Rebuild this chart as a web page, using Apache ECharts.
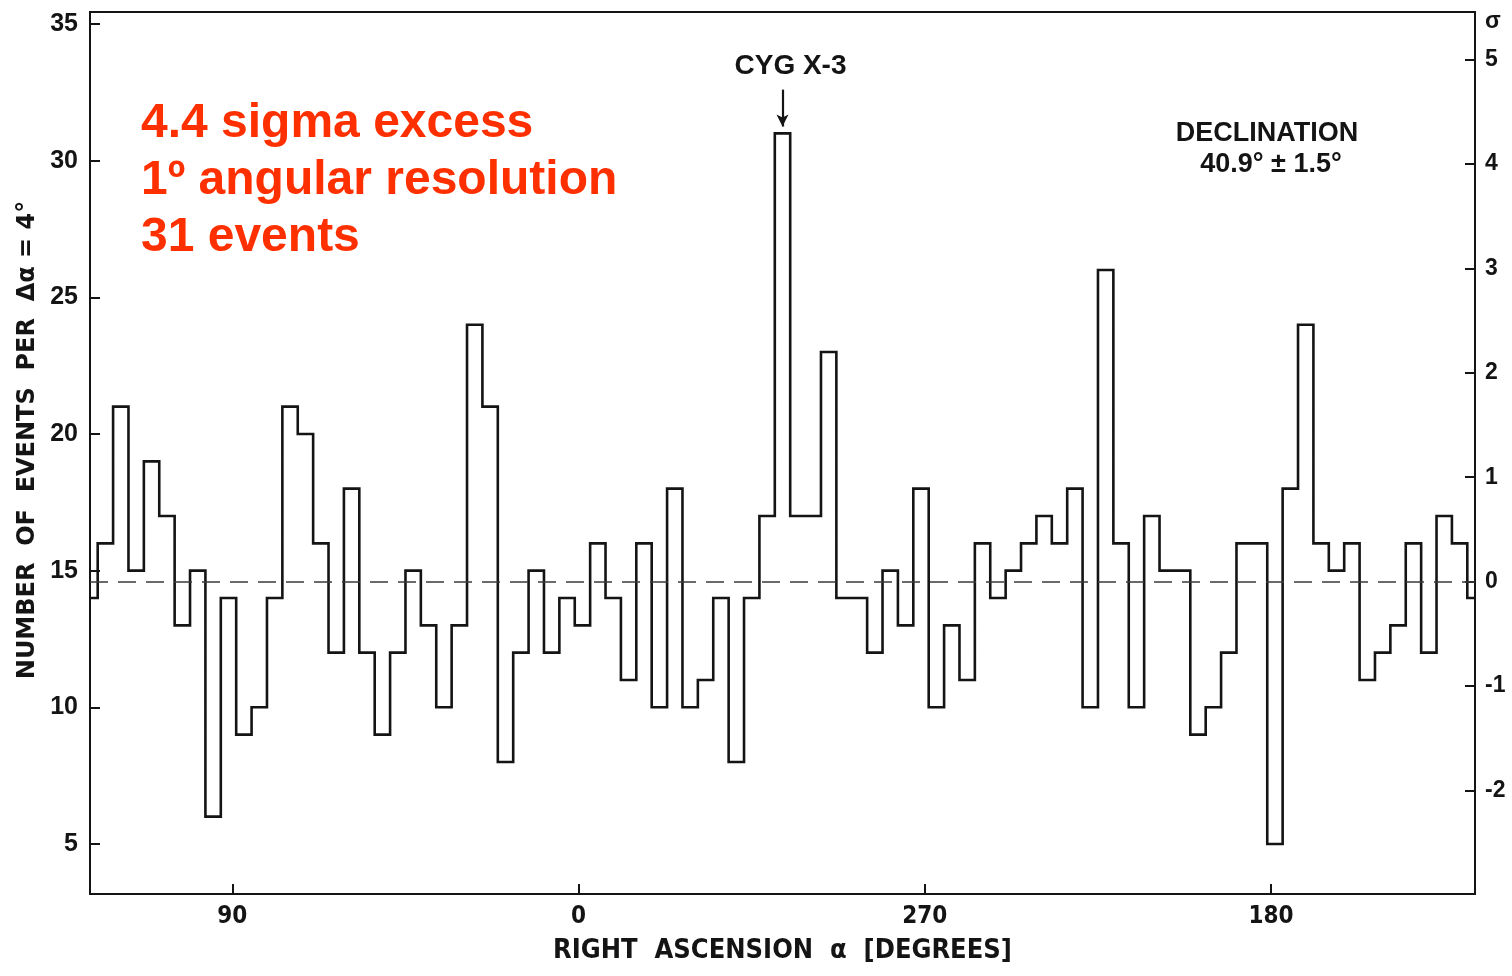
<!DOCTYPE html>
<html>
<head>
<meta charset="utf-8">
<script src="https://cdn.jsdelivr.net/npm/echarts@6/dist/echarts.min.js"></script>
<style>
  html, body { margin: 0; padding: 0; background: #fff; }
  #chart { width: 1512px; height: 976px; }
</style>
</head>
<body>
<div id="chart"></div>
<script>
// Air-shower events per 4° bin of right ascension, declination band 40.9° ± 1.5°.
// The axis runs from RA 127° on the left, down through 0°, to 127° again on the right.
const BIN_WIDTH = 4;
const RA_LEFT = 127;
const RA_RIGHT = -233;
const FIRST_EDGE = 125;
const WRAP_COUNT = 14;          // the bin split across both ends of the axis
const COUNTS = [
  16, 21, 15, 19, 17, 13, 15, 6, 14, 9,
  10, 14, 21, 20, 16, 12, 18, 12, 9, 12,
  15, 13, 10, 13, 24, 21, 8, 12, 15, 12,
  14, 13, 16, 14, 11, 16, 10, 18, 10, 11,
  14, 8, 14, 17, 31, 17, 17, 23, 14, 14,
  12, 15, 13, 18, 10, 13, 11, 16, 14, 15,
  16, 17, 16, 18, 10, 26, 16, 10, 17, 15,
  15, 9, 10, 12, 16, 16, 5, 18, 24, 16,
  15, 16, 11, 12, 13, 16, 12, 17, 16
];
const MEAN = 14.6;
const SOURCE_BIN = 44;          // Cyg X-3
const COUNT_TICKS = [5, 10, 15, 20, 25, 30, 35];
const SIGMA_TICKS = [-2, -1, 0, 1, 2, 3, 4, 5];
const SIGMA_MARK = 5.36;        // where the σ heading sits on the right axis
const RA_TICKS = [90, 0, -90, -180];
const Y_MIN = 3.17;
const Y_MAX = 35.44;
const NOTES = ['4.4 sigma excess', '1º angular resolution', '31 events'];
const DECLINATION = ['DECLINATION', '40.9° ± 1.5°'];

// step outline: one point per bin edge, value held to the next edge
const steps = [[RA_LEFT, WRAP_COUNT]];
COUNTS.forEach((c, k) => steps.push([FIRST_EDGE - k * BIN_WIDTH, c]));
steps.push([FIRST_EDGE - COUNTS.length * BIN_WIDTH, WRAP_COUNT]);
steps.push([RA_RIGHT, WRAP_COUNT]);

const sd = Math.sqrt(MEAN);
const sourceRA = FIRST_EDGE - (SOURCE_BIN + 0.5) * BIN_WIDTH;

const INK = '#141414';
const LABEL_FONT = '"Liberation Sans", Arial, sans-serif';
const NARROW_FONT = '"Liberation Sans Narrow", "DejaVu Sans Condensed", "Liberation Sans", sans-serif';

const chart = echarts.init(document.getElementById('chart'), null, { renderer: 'canvas' });
chart.setOption({
  animation: false,
  backgroundColor: '#fff',
  grid: { left: 90, right: 37, top: 12, bottom: 82, show: true, borderColor: INK, borderWidth: 2, backgroundColor: 'transparent' },
  xAxis: {
    type: 'value', inverse: true, min: RA_RIGHT, max: RA_LEFT,
    name: 'RIGHT  ASCENSION  α  [DEGREES]', nameLocation: 'middle', nameGap: 43,
    nameTextStyle: { color: INK, fontFamily: NARROW_FONT, fontWeight: 'bold', fontSize: 27 },
    axisLine: { show: true, onZero: false, lineStyle: { color: INK, width: 2 } },
    axisTick: { show: true, inside: true, length: 10, customValues: RA_TICKS, lineStyle: { color: INK, width: 2 } },
    axisLabel: { customValues: RA_TICKS, margin: 11, color: INK, fontFamily: NARROW_FONT, fontWeight: 'bold', fontSize: 24,
      formatter: v => String(((v % 360) + 360) % 360) },
    splitLine: { show: false }
  },
  yAxis: [
    {
      type: 'value', min: Y_MIN, max: Y_MAX, position: 'left',
      name: 'NUMBER  OF  EVENTS  PER  Δα = 4°', nameLocation: 'middle', nameGap: 50, nameRotate: 90,
      nameTextStyle: { color: INK, fontFamily: '"DejaVu Sans", sans-serif', fontWeight: 'bold', fontSize: 24, padding: [0, 0, 0, 26] },
      axisLine: { show: true, onZero: false, lineStyle: { color: INK, width: 2 } },
      axisTick: { show: true, inside: true, length: 10, customValues: COUNT_TICKS, lineStyle: { color: INK, width: 2 } },
      axisLabel: { customValues: COUNT_TICKS, margin: 12, color: INK, fontFamily: LABEL_FONT, fontWeight: 'bold', fontSize: 25 },
      splitLine: { show: false }
    },
    {
      type: 'value', min: (Y_MIN - MEAN) / sd, max: (Y_MAX - MEAN) / sd, position: 'right',
      axisLine: { show: true, onZero: false, lineStyle: { color: INK, width: 2 } },
      axisTick: { show: true, inside: true, length: 10, customValues: SIGMA_TICKS, lineStyle: { color: INK, width: 2 } },
      axisLabel: { customValues: SIGMA_TICKS.concat([SIGMA_MARK]), margin: 10, color: INK, fontFamily: LABEL_FONT, fontWeight: 'bold', fontSize: 23,
        formatter: v => (v > 5.2 ? 'σ' : (v < 0 ? '-' + Math.abs(v) : String(v))) },
      splitLine: { show: false }
    }
  ],
  series: [{
    type: 'line',
    step: 'end',
    data: steps,
    showSymbol: false,
    symbol: 'none',
    clip: false,
    lineStyle: { color: INK, width: 2.6, join: 'miter' },
    markLine: {
      silent: true,
      animation: false,
      data: [
        [{ coord: [RA_LEFT, MEAN], symbol: 'none', lineStyle: { color: '#3a3a3a', width: 1.6, type: [18, 10] }, label: { show: false } },
         { coord: [RA_RIGHT, MEAN], symbol: 'none' }],
        [{ coord: [sourceRA, 32.6], symbol: 'none', lineStyle: { color: INK, width: 2.2, type: 'solid' }, label: { show: false } },
         { coord: [sourceRA, 31.25], symbol: 'arrow', symbolSize: [9, 12] }]
      ]
    },
    markPoint: {
      silent: true,
      animation: false,
      data: [{ coord: [sourceRA, 33.45], symbol: 'circle', symbolSize: 1, itemStyle: { color: 'transparent' },
        label: { show: true, position: 'inside', offset: [8, 0], formatter: 'CYG X-3', color: INK,
          fontFamily: LABEL_FONT, fontWeight: 'bold', fontSize: 28 } }]
    }
  }],
  graphic: [
    { type: 'text', left: 141, top: 95, silent: true,
      style: { text: NOTES.join('\n'), fill: '#ff3000', font: 'bold 48px "Liberation Sans", Arial, sans-serif', lineHeight: 57 } },
    { type: 'text', x: 1267, y: 134, silent: true,
      style: { text: DECLINATION[0], fill: INK, font: 'bold 27px "Liberation Sans", Arial, sans-serif', textAlign: 'center', textVerticalAlign: 'middle' } },
    { type: 'text', x: 1271, y: 165, silent: true,
      style: { text: DECLINATION[1], fill: INK, font: 'bold 27px "Liberation Sans", Arial, sans-serif', textAlign: 'center', textVerticalAlign: 'middle' } }
  ]
});
</script>
</body>
</html>
